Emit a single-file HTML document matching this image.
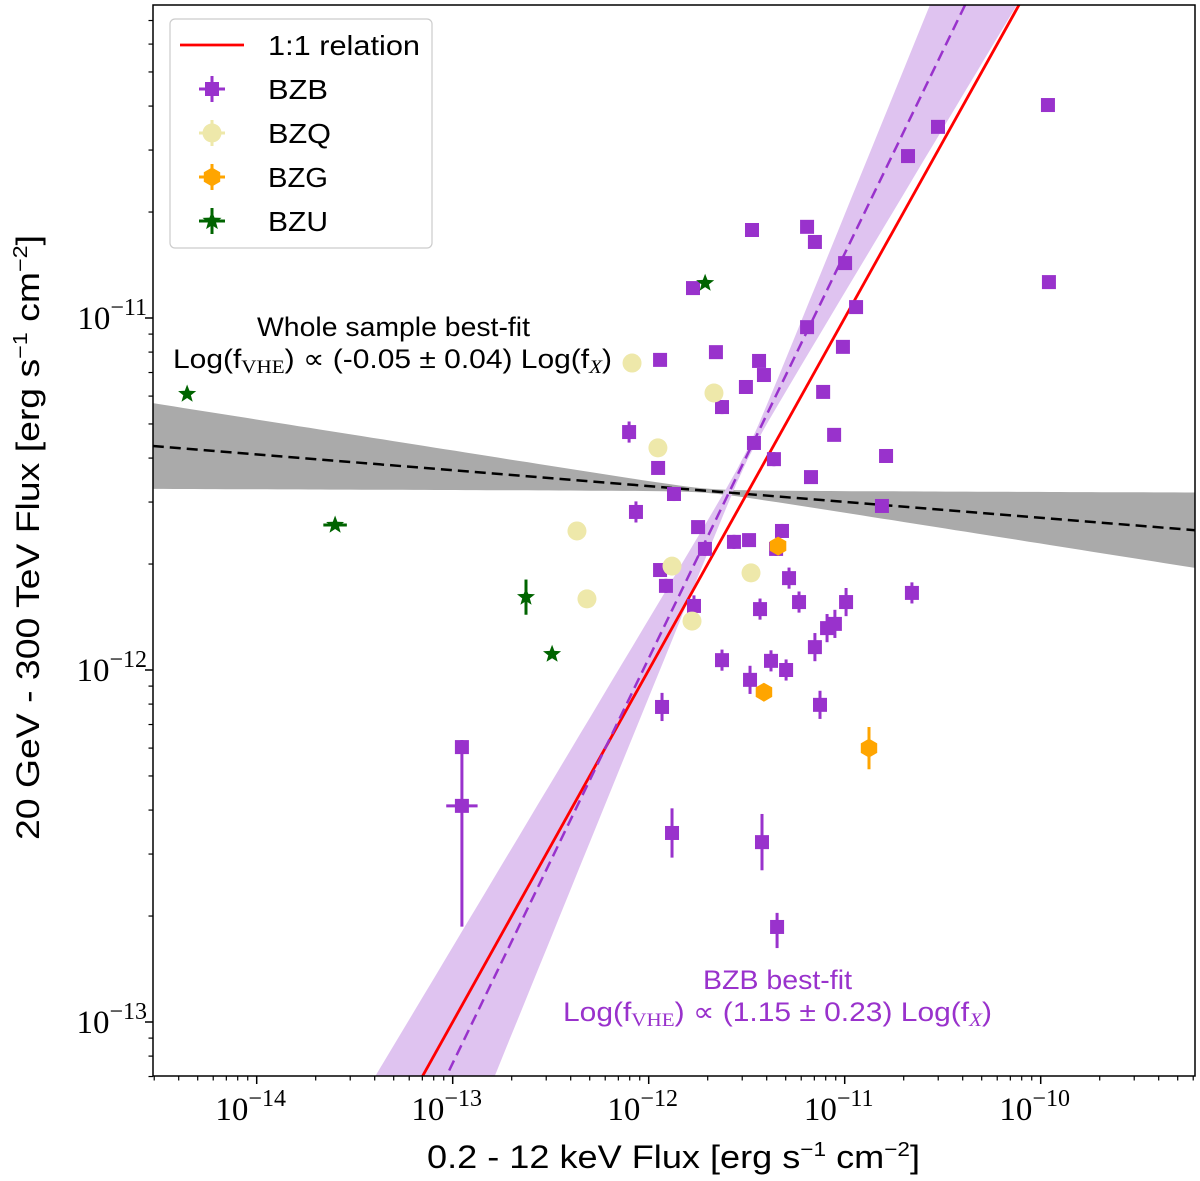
<!DOCTYPE html>
<html><head><meta charset="utf-8"><style>
html,body{margin:0;background:#fff;overflow:hidden;width:1200px;height:1181px;}
svg{display:block;font-family:"Liberation Sans",sans-serif;}
</style></head><body>
<svg id="chart" width="1200" height="1181" viewBox="0 0 1200 1181" xmlns="http://www.w3.org/2000/svg">
<defs><clipPath id="plotclip"><rect x="153" y="5" width="1042" height="1071"/></clipPath></defs>
<g id="plot" clip-path="url(#plotclip)"></g>
<rect x="153" y="5" width="1042" height="1071" fill="none" stroke="#000" stroke-width="1.5"/>
<g id="axes"></g>
<g font-size="27" fill="#000">
<text x="257" y="336" textLength="273" lengthAdjust="spacingAndGlyphs">Whole sample best-fit</text>
<text x="173" y="368" textLength="439" lengthAdjust="spacingAndGlyphs">Log(f<tspan font-family="Liberation Serif" font-size="19" dy="5">VHE</tspan><tspan dy="-5">) ∝ (-0.05 ± 0.04) Log(f</tspan><tspan font-family="Liberation Serif" font-style="italic" font-size="19" dy="5">X</tspan><tspan dy="-5">)</tspan></text>
</g>
<g font-size="27" fill="#9932cc">
<text x="703" y="989" textLength="149" lengthAdjust="spacingAndGlyphs">BZB best-fit</text>
<text x="563" y="1021" textLength="429" lengthAdjust="spacingAndGlyphs">Log(f<tspan font-family="Liberation Serif" font-size="19" dy="5">VHE</tspan><tspan dy="-5">) ∝ (1.15 ± 0.23) Log(f</tspan><tspan font-family="Liberation Serif" font-style="italic" font-size="19" dy="5">X</tspan><tspan dy="-5">)</tspan></text>
</g>
<text x="427" y="1168" font-size="32" textLength="493" lengthAdjust="spacingAndGlyphs">0.2 - 12 keV Flux [erg s<tspan font-size="20" dy="-12">−1</tspan><tspan dy="12"> cm</tspan><tspan font-size="20" dy="-12">−2</tspan><tspan dy="12">]</tspan></text>
<text transform="translate(39,840) rotate(-90)" font-size="32" textLength="605" lengthAdjust="spacingAndGlyphs">20 GeV - 300 TeV Flux [erg s<tspan font-size="20" dy="-12">−1</tspan><tspan dy="12"> cm</tspan><tspan font-size="20" dy="-12">−2</tspan><tspan dy="12">]</tspan></text>
<g id="legend"></g>
</svg>
<script>
// ---- data (log10 of flux) ----
const bzbLogFx   = [-11.473,-11.192,-11.152,-11.774,-9.963,-9.958,-10.677,-10.524,-10.998,-10.942,-11.192,-11.009,-11.942,-11.657,-11.437,-11.412,-11.504,-11.626,-11.110,-11.054,-12.100,-11.952,-11.463,-11.361,-10.789,-11.871,-12.065,-11.172,-10.810,-11.748,-11.320,-11.565,-11.488,-11.713,-11.350,-11.942,-11.284,-11.912,-11.769,-11.432,-11.233,-10.657,-10.993,-11.090,-11.050,-11.152,-11.626,-11.376,-11.299,-11.483,-11.126,-11.932,-11.881,-11.422,-11.345,-12.953,-12.953];
const bzbLogFvhe = [-10.750,-10.741,-10.784,-10.915,-10.395,-10.898,-10.540,-10.457,-10.844,-10.969,-11.026,-11.082,-11.119,-11.097,-11.122,-11.162,-11.196,-11.253,-11.210,-11.332,-11.324,-11.426,-11.355,-11.401,-11.392,-11.500,-11.551,-11.452,-11.534,-11.594,-11.605,-11.636,-11.631,-11.656,-11.656,-11.716,-11.739,-11.761,-11.818,-11.827,-11.807,-11.781,-11.807,-11.881,-11.869,-11.935,-11.972,-11.974,-12.000,-12.028,-12.099,-12.105,-12.463,-12.489,-12.730,-12.219,-12.386];
const bzbErrLo   = [0,0,0,0,0,0,0,0,0,0,0,0,0,0,0,0,0,0.02,0,0,0.03,0,0,0.02,0,0.02,0.03,0,0,0,0.02,0.02,0,0.02,0.02,0,0.03,0.02,0.03,0.03,0.03,0.03,0.04,0.04,0.04,0.04,0.03,0.03,0.03,0.04,0.04,0.04,0.07,0.08,0.06,0.51,0];
const bzbErrHi   = [0,0,0,0,0,0,0,0,0,0,0,0,0,0,0,0,0,0.02,0,0,0.03,0,0,0.02,0,0.02,0.03,0,0,0,0.02,0.02,0,0.02,0.02,0,0.03,0.02,0.03,0.03,0.03,0.03,0.04,0.04,0.04,0.04,0.03,0.03,0.03,0.04,0.04,0.04,0.07,0.08,0.04,0.02,0];
const bzbXErr    = [0,0,0,0,0,0,0,0,0,0,0,0,0,0,0,0,0,0,0,0,0,0,0,0,0,0,0,0,0,0,0,0,0,0,0,0,0,0,0,0,0,0,0,0,0,0,0,0,0,0,0,0,0,0,0,0,0.08];
const bzqLogFx   = [-12.085,-11.667,-11.953,-12.366,-11.881,-11.478,-12.315,-11.779];
const bzqLogFvhe = [-11.128,-11.213,-11.369,-11.605,-11.705,-11.724,-11.798,-11.861];
const bzgLogFx   = [-11.340,-11.412,-10.876];
const bzgLogFvhe = [-11.648,-12.063,-12.222];
const bzgErr     = [0.02,0.02,0.06];
const bzuLogFx   = [-11.712,-14.355,-13.600,-12.626,-12.493];
const bzuLogFvhe = [-10.901,-11.216,-11.588,-11.793,-11.955];
const bzuXErr    = [0,0,0.06,0,0];
const bzuYErr    = [0,0,0,0.05,0];
// fits: logY = a + b*(logX - x0), band from sigma
const bzbFit   = [ -11.392, 1.15, -11.5, 0.015, 0.22 ];   // a, b, x0, sigA, sigB
const wholeFit = [ -11.491, -0.045, -11.7, 0.006, 0.043 ];
const xTickExps = [-14,-13,-12,-11,-10];
const yTickExps = [-13,-12,-11];

// ---- axes ----
const X0=256.7, XD=196, Y0=318, YD=352;
const sx = lx => X0 + (lx+14)*XD;
const sy = ly => Y0 - (ly+11)*YD;
const LXMIN=-14.53, LXMAX=-9.21, LYMIN=-13.155, LYMAX=-10.11;
const NS="http://www.w3.org/2000/svg";
function mk(tag, attrs, parent){const e=document.createElementNS(NS,tag);for(const k in attrs)e.setAttribute(k,attrs[k]);parent.appendChild(e);return e;}
const plot=document.getElementById('plot'), axes=document.getElementById('axes'), legend=document.getElementById('legend');

function band(fit, color, name){
  const [a,b,x0,sa,sb]=fit; let up=[],lo=[];
  for(let i=0;i<=100;i++){const lx=LXMIN+(LXMAX-LXMIN)*i/100;const c=a+b*(lx-x0);const h=Math.sqrt(sa*sa+sb*sb*(lx-x0)*(lx-x0));
    up.push(sx(lx).toFixed(1)+','+sy(c+h).toFixed(1)); lo.unshift(sx(lx).toFixed(1)+','+sy(c-h).toFixed(1));}
  const p=mk('polygon',{points:up.concat(lo).join(' '),fill:color,stroke:'none'},plot);
  
  
}
function fitLine(fit,color,name,dash){
  const [a,b,x0]=fit;
  const l=mk('line',{x1:sx(LXMIN),y1:sy(a+b*(LXMIN-x0)),x2:sx(LXMAX),y2:sy(a+b*(LXMAX-x0)),stroke:color,'stroke-width':2.5,'stroke-dasharray':dash||'none'},plot);
  
  
}
band(wholeFit,'#aaaaaa','whole-sample-band');
band(bzbFit,'#dfc3f0','bzb-fit-band');
fitLine(wholeFit,'#000','whole-sample-fit-line','11,6');
const one=mk('line',{x1:sx(LXMIN),y1:sy(LXMIN),x2:sx(LXMAX),y2:sy(LXMAX),stroke:'#ff0000','stroke-width':2.8},plot);


fitLine(bzbFit,'#9932cc','bzb-fit-line','11,6');

function errbar(cx,cy,lx,ly,elo,ehi,xe,color,w){
  if(elo>0||ehi>0) mk('line',{x1:cx,x2:cx,y1:sy(ly+ehi),y2:sy(ly-elo),stroke:color,'stroke-width':w},plot);
  if(xe>0) mk('line',{y1:cy,y2:cy,x1:sx(lx-xe),x2:sx(lx+xe),stroke:color,'stroke-width':w},plot);
}
function star(cx,cy,r){let p=[];for(let i=0;i<10;i++){const rr=i%2?r*0.42:r;const a=-Math.PI/2+i*Math.PI/5;p.push((cx+rr*Math.cos(a)).toFixed(1)+','+(cy+rr*Math.sin(a)).toFixed(1));}return p.join(' ');}
function hex(cx,cy,r){let p=[];for(let i=0;i<6;i++){const a=-Math.PI/2+i*Math.PI/3;p.push((cx+r*Math.cos(a)).toFixed(1)+','+(cy+r*Math.sin(a)).toFixed(1));}return p.join(' ');}

bzbLogFx.forEach((lx,i)=>{const ly=bzbLogFvhe[i],cx=sx(lx),cy=sy(ly);
  errbar(cx,cy,lx,ly,bzbErrLo[i],bzbErrHi[i],bzbXErr[i],'#9932cc',3);
  const r=mk('rect',{x:cx-7,y:cy-7,width:14,height:14,fill:'#9932cc'},plot);
  
  
});
bzqLogFx.forEach((lx,i)=>{const c=mk('circle',{cx:sx(lx),cy:sy(bzqLogFvhe[i]),r:9.5,fill:'#eee8aa'},plot);
  
  
});
bzgLogFx.forEach((lx,i)=>{const ly=bzgLogFvhe[i],cx=sx(lx),cy=sy(ly);
  errbar(cx,cy,lx,ly,bzgErr[i],bzgErr[i],0,'#ffa500',3);
  const h=mk('polygon',{points:hex(cx,cy,9.5),fill:'#ffa500'},plot);
  
  
});
bzuLogFx.forEach((lx,i)=>{const ly=bzuLogFvhe[i],cx=sx(lx),cy=sy(ly);
  errbar(cx,cy,lx,ly,bzuYErr[i],bzuYErr[i],bzuXErr[i],'#006400',3);
  const s=mk('polygon',{points:star(cx,cy,9.5),fill:'#006400'},plot);
  
  
});

for(let d=-15;d<=-9;d++){for(let m=1;m<10;m++){const lx=d+Math.log10(m);if(lx<LXMIN||lx>LXMAX)continue;const x=sx(lx);
  mk('line',{x1:x,x2:x,y1:1076,y2:1076+(m==1?8:4.5),stroke:'#000','stroke-width':m==1?1.5:1.2},axes);}}
for(let d=-14;d<=-10;d++){for(let m=1;m<10;m++){const ly=d+Math.log10(m);if(ly<LYMIN||ly>LYMAX)continue;const y=sy(ly);
  mk('line',{y1:y,y2:y,x1:153,x2:153-(m==1?8:4.5),stroke:'#000','stroke-width':m==1?1.5:1.2},axes);}}
xTickExps.forEach(e=>{const t=mk('text',{x:sx(e)-6,y:1120,'font-family':'Liberation Serif','font-size':33,'text-anchor':'middle'},axes);
  
  
  t.innerHTML='10<tspan font-size="24" dy="-14">−'+(-e)+'</tspan>';});
yTickExps.forEach(e=>{const t=mk('text',{x:147,y:sy(e)+11,'font-family':'Liberation Serif','font-size':33,'text-anchor':'end'},axes);
  
  
  t.innerHTML='10<tspan font-size="24" dy="-14">−'+(-e)+'</tspan>';});

mk('rect',{x:170,y:19,width:262,height:229,rx:5,fill:'#fff','fill-opacity':0.85,stroke:'#cccccc','stroke-width':1.2},legend);
const legNames=['1:1 relation','BZB','BZQ','BZG','BZU'];
const legY=[45,89,133,177,221];
const legW=[152,60,63,60,60];
legNames.forEach((n,i)=>{const y=legY[i],cx=212;const g=mk('g',{},legend);
  
  
  if(i==0) mk('line',{x1:180,x2:244,y1:y,y2:y,stroke:'#ff0000','stroke-width':2.8},g);
  if(i==1){mk('line',{x1:cx,x2:cx,y1:y-13,y2:y+13,stroke:'#9932cc','stroke-width':3},g);mk('line',{x1:cx-13,x2:cx+13,y1:y,y2:y,stroke:'#9932cc','stroke-width':3},g);mk('rect',{x:cx-7,y:y-7,width:14,height:14,fill:'#9932cc'},g);}
  if(i==2){mk('line',{x1:cx,x2:cx,y1:y-13,y2:y+13,stroke:'#eee8aa','stroke-width':3},g);mk('line',{x1:cx-13,x2:cx+13,y1:y,y2:y,stroke:'#eee8aa','stroke-width':3},g);mk('circle',{cx:cx,cy:y,r:9.5,fill:'#eee8aa'},g);}
  if(i==3){mk('line',{x1:cx,x2:cx,y1:y-13,y2:y+13,stroke:'#ffa500','stroke-width':3},g);mk('line',{x1:cx-13,x2:cx+13,y1:y,y2:y,stroke:'#ffa500','stroke-width':3},g);mk('polygon',{points:hex(cx,y,9.5),fill:'#ffa500'},g);}
  if(i==4){mk('line',{x1:cx,x2:cx,y1:y-13,y2:y+13,stroke:'#006400','stroke-width':3},g);mk('line',{x1:cx-13,x2:cx+13,y1:y,y2:y,stroke:'#006400','stroke-width':3},g);mk('polygon',{points:star(cx,y,10),fill:'#006400'},g);}
  const t=mk('text',{x:268,y:y+10,'font-size':28,textLength:legW[i],lengthAdjust:'spacingAndGlyphs'},g);t.textContent=n;});
</script>
</body></html>
